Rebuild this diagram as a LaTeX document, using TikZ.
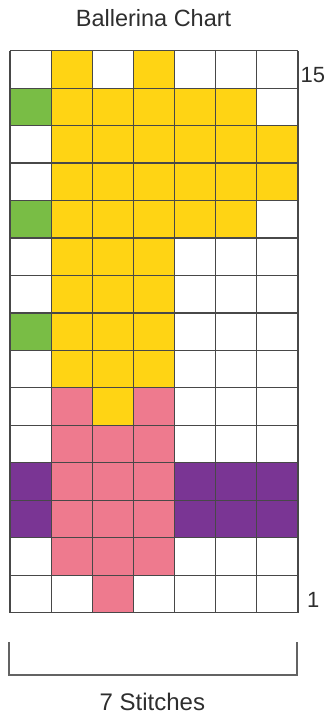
\documentclass[tikz,border=0pt]{standalone}
\usepackage{fontspec}
\setmainfont{Liberation Sans}
\usetikzlibrary{positioning}
\definecolor{ballyellow}{HTML}{FFD414}
\definecolor{ballgreen}{HTML}{79BD45}
\definecolor{ballpink}{HTML}{EE7A8E}
\definecolor{ballpurple}{HTML}{7A3594}
\definecolor{gridgray}{HTML}{484848}
\definecolor{textgray}{HTML}{2E2E2E}
\begin{document}
\begin{tikzpicture}[
    x=41.14pt, y=37.47pt, % 一格的宽和高
    gridline/.style={draw=gridgray, line width=1.2pt},
    bracketline/.style={draw=gridgray!85, line width=1.5pt},
    yellowcell/.style={fill=ballyellow},
    greencell/.style={fill=ballgreen},
    pinkcell/.style={fill=ballpink},
    purplecell/.style={fill=ballpurple},
    every node/.style={
        inner sep=0pt,
        text=textgray,
        font=\fontsize{23.5}{26}\selectfont
    }
]
  % 画布大小
  \useasboundingbox (-0.243,-2.784) rectangle (7.803,16.352);
  % 黄色
  \fill[yellowcell] (1,6) rectangle (4,14);
  \fill[yellowcell] (1,14) rectangle (2,15);
  \fill[yellowcell] (3,14) rectangle (4,15);
  \fill[yellowcell] (2,5) rectangle (3,6);
  \fill[yellowcell] (4,10) rectangle (6,14);
  \fill[yellowcell] (6,11) rectangle (7,13);
  % 绿色
  \fill[greencell] (0,13) rectangle (1,14);
  \fill[greencell] (0,10) rectangle (1,11);
  \fill[greencell] (0,7) rectangle (1,8);
  % 粉色
  \fill[pinkcell] (1,1) rectangle (4,5);
  \fill[pinkcell] (1,5) rectangle (2,6);
  \fill[pinkcell] (3,5) rectangle (4,6);
  \fill[pinkcell] (2,0) rectangle (3,1);
  % 紫色
  \fill[purplecell] (0,2) rectangle (1,4);
  \fill[purplecell] (4,2) rectangle (7,4);
  % 网格
  \foreach \c in {0,...,7} \draw[gridline] (\c,0) -- (\c,15);
  \foreach \r in {0,...,15} \draw[gridline] (0,\r) -- (7,\r);
  % 文字
  \node[anchor=base] (title) at (3.49,15.64) {Ballerina Chart};
  \node[anchor=base, font=\fontsize{22}{24}\selectfont] (rowtop) at (7.36,14.16) {15};
  \node[anchor=base, font=\fontsize{22}{24}\selectfont] (rowbottom) at (7.37,0.13) {1};
  % 括号
  \coordinate (bracketleft) at (-0.02,-0.78);
  \coordinate (bracketright) at (6.98,-0.78);
  \coordinate (bracketbottom) at (6.98,-1.66);
  \draw[bracketline] (bracketleft) |- (bracketbottom) -- (bracketright);
  \node[anchor=base, font=\fontsize{24}{26}\selectfont] (stitches) at (3.46,-2.62) {7 Stitches};
\end{tikzpicture}
\end{document}
